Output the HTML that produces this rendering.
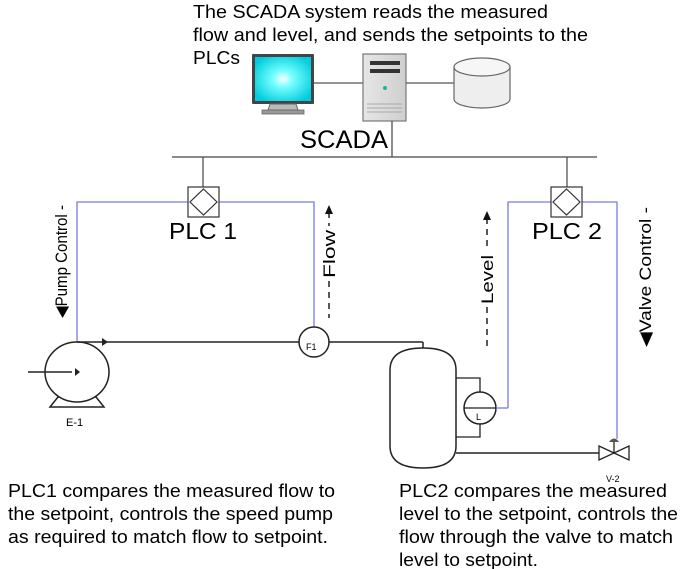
<!DOCTYPE html>
<html><head><meta charset="utf-8"><style>
body{margin:0;background:#fff;}
svg{display:block;font-family:"Liberation Sans",Arial,sans-serif;}
</style></head><body>
<svg width="685" height="569" viewBox="0 0 685 569">
<defs>
<radialGradient id="scr" cx="0.5" cy="0.5" r="0.6"><stop offset="0" stop-color="#fff"/><stop offset="0.3" stop-color="#7ff"/><stop offset="1" stop-color="#0cd"/></radialGradient>
<linearGradient id="srv" x1="0" x2="1"><stop offset="0" stop-color="#e6e6e6"/><stop offset="1" stop-color="#cfcfcf"/></linearGradient>
</defs>
<g font-size="18" fill="#000" lengthAdjust="spacingAndGlyphs">
<text x="193" y="18" textLength="355" lengthAdjust="spacingAndGlyphs">The SCADA system reads the measured</text>
<text x="193" y="41" textLength="395" lengthAdjust="spacingAndGlyphs">flow and level, and sends the setpoints to the</text>
<text x="193" y="64" textLength="47" lengthAdjust="spacingAndGlyphs">PLCs</text>
</g>
<!-- monitor -->
<rect x="252" y="54" width="62" height="50" fill="#444" rx="1"/>
<rect x="255" y="57" width="56" height="44" fill="url(#scr)"/>
<path d="M270 104 L296 104 L298 110 L268 110 Z" fill="#bbb" stroke="#666" stroke-width="1"/>
<rect x="262" y="110" width="42" height="4" fill="#999" stroke="#666" stroke-width="0.8"/>
<line x1="314" y1="83" x2="363" y2="83" stroke="#555" stroke-width="1.2"/>
<!-- server -->
<rect x="363" y="54" width="43" height="67" fill="url(#srv)" stroke="#777" stroke-width="1.2"/>
<rect x="370" y="61" width="30" height="4" fill="#333"/>
<rect x="370" y="69" width="30" height="4" fill="#333"/>
<circle cx="385" cy="88" r="2" fill="#1b9"/>
<line x1="367" y1="104" x2="402" y2="104" stroke="#aaa"/><line x1="367" y1="108" x2="402" y2="108" stroke="#aaa"/><line x1="367" y1="112" x2="402" y2="112" stroke="#aaa"/>
<line x1="406" y1="83" x2="454" y2="83" stroke="#555" stroke-width="1.2"/>
<!-- disk -->
<path d="M454 67 L454 99 A28 9 0 0 0 510 99 L510 67" fill="#eee" stroke="#666" stroke-width="1.2"/>
<ellipse cx="482" cy="67" rx="28" ry="9" fill="#f6f6f6" stroke="#666" stroke-width="1.2"/>
<text x="300" y="148" font-size="25" textLength="88" lengthAdjust="spacingAndGlyphs">SCADA</text>
<g stroke="#444" stroke-width="1.2" fill="none">
<line x1="392" y1="121" x2="392" y2="157"/>
<line x1="172" y1="157" x2="597" y2="157"/>
<line x1="203" y1="157" x2="203" y2="187"/>
<line x1="567" y1="157" x2="567" y2="187"/>
</g>
<!-- blue lines -->
<g stroke="#7a7ae8" stroke-width="1.3" fill="none">
<polyline points="77,342 77,202 314,202 314,327"/>
<polyline points="508,408 508,202 617,202 617,439"/>
</g>
<!-- PLC boxes -->
<g stroke="#333" stroke-width="1.2" fill="#fff">
<rect x="188" y="187" width="31" height="30"/>
<path d="M203.5 189 L217 202 L203.5 215 L190 202 Z"/>
<rect x="551" y="187" width="31" height="30"/>
<path d="M566.5 189 L580 202 L566.5 215 L553 202 Z"/>
</g>
<text x="169" y="239" font-size="23" textLength="68" lengthAdjust="spacingAndGlyphs">PLC 1</text>
<text x="532" y="239" font-size="23" textLength="70" lengthAdjust="spacingAndGlyphs">PLC 2</text>
<!-- pump -->
<g stroke="#222" stroke-width="1.5" fill="#fff">
<path d="M50 407 L58 397 L96 397 L104 407 Z"/>
<ellipse cx="77" cy="372" rx="32" ry="30"/>
<line x1="28" y1="372" x2="72" y2="372"/>
<line x1="77" y1="342" x2="423" y2="342" fill="none"/>
<polyline points="423,342 423,348" fill="none"/>
</g>
<polygon points="75,368 75,376 80,372" fill="#222"/>
<polygon points="102,338 102,346 108,342" fill="#222"/>
<text x="66" y="426" font-size="11">E-1</text>
<!-- F1 -->
<ellipse cx="314" cy="342" rx="15" ry="15" fill="#fff" stroke="#222" stroke-width="1.5"/>
<text x="306" y="350" font-size="9">F1</text>
<!-- tank -->
<path d="M390 370 Q390 348 423 348 Q456 348 456 370 L456 446 Q456 468 423 468 Q390 468 390 446 Z" fill="#fff" stroke="#222" stroke-width="1.5"/>
<polyline points="456,378 480,378 480,437 456,437" fill="none" stroke="#222" stroke-width="1.3"/>
<ellipse cx="480" cy="408" rx="16" ry="16" fill="#fff" stroke="#222" stroke-width="1.5"/>
<line x1="464" y1="408" x2="496" y2="408" stroke="#222" stroke-width="1.2"/>
<line x1="496" y1="408" x2="508" y2="408" stroke="#7a7ae8" stroke-width="1.3"/>
<text x="476" y="420" font-size="9">L</text>
<!-- outlet + valve -->
<line x1="456" y1="453" x2="599" y2="453" stroke="#222" stroke-width="1.5"/>
<path d="M599 446 L629 460 L629 446 L599 460 Z" fill="#fff" stroke="#222" stroke-width="1.3"/>
<line x1="614" y1="453" x2="614" y2="440" stroke="#222" stroke-width="1.3"/>
<path d="M609 442 Q614 435 619 442 Z" fill="#555"/>
<text x="606" y="482" font-size="9">V-2</text>
<!-- dashed signal lines -->
<g stroke="#111" stroke-width="1.4" stroke-dasharray="6,5" fill="none">
<line x1="329" y1="212" x2="329" y2="226"/>
<line x1="329" y1="281" x2="329" y2="318"/>
<line x1="487" y1="218" x2="487" y2="251"/>
<line x1="487" y1="307" x2="487" y2="348"/>
</g>
<polygon points="325,214 333,214 329,205" fill="#111"/>
<polygon points="483,220 491,220 487,211" fill="#111"/>
<g font-size="17">
<text transform="translate(335,278) rotate(-90)" textLength="48" lengthAdjust="spacingAndGlyphs">Flow</text>
<text transform="translate(493,304) rotate(-90)" textLength="49" lengthAdjust="spacingAndGlyphs">Level</text>
<text transform="translate(67,318) rotate(-90)" textLength="113" lengthAdjust="spacingAndGlyphs">◀Pump Control -</text>
<text transform="translate(651,347) rotate(-90)" textLength="140" lengthAdjust="spacingAndGlyphs">◀Valve Control -</text>
</g>
<g font-size="18">
<text x="8" y="497" textLength="327" lengthAdjust="spacingAndGlyphs">PLC1 compares the measured flow to</text>
<text x="8" y="520" textLength="325" lengthAdjust="spacingAndGlyphs">the setpoint, controls the speed pump</text>
<text x="8" y="543" textLength="320" lengthAdjust="spacingAndGlyphs">as required to match flow to setpoint.</text>
<text x="399" y="497" textLength="268" lengthAdjust="spacingAndGlyphs">PLC2 compares the measured</text>
<text x="399" y="520" textLength="279" lengthAdjust="spacingAndGlyphs">level to the setpoint, controls the</text>
<text x="399" y="543" textLength="274" lengthAdjust="spacingAndGlyphs">flow through the valve to match</text>
<text x="399" y="566" textLength="139" lengthAdjust="spacingAndGlyphs">level to setpoint.</text>
</g>
</svg>
</body></html>
